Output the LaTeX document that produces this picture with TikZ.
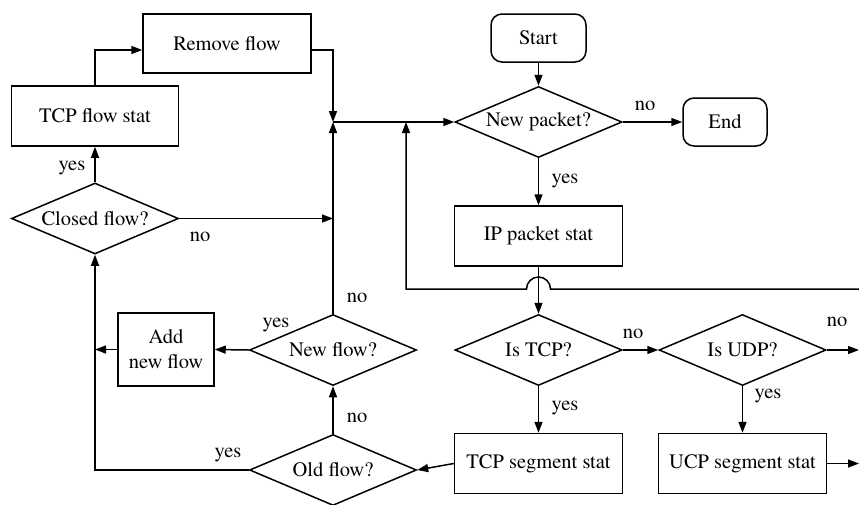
\documentclass[tikz,border=0pt]{standalone}
\usepackage{fontspec}
\setmainfont{texgyretermes-regular.otf}
\usetikzlibrary{arrows.meta,shapes.geometric}
\newcommand\dtext[1]{\makebox[0pt]{#1}}
\begin{document}
\begin{tikzpicture}[x=1pt,y=-1pt,
  font=\fontsize{20.5}{25}\selectfont,
  line width=1.5pt,
  >={Triangle[length=11pt,width=8pt]},
  box/.style={draw,rectangle,inner sep=0pt,minimum width=168pt,minimum height=60pt},
  term/.style={draw,rectangle,rounded corners=11pt,inner sep=0pt,minimum height=48pt},
  dec/.style={draw,diamond,inner sep=0pt,minimum width=167pt,minimum height=71pt},
  lab/.style={anchor=base,inner sep=0pt}]
\useasboundingbox (0,0) rectangle (859,504);
% nodes
\node[term,minimum width=95pt] (start) at (538.5,38) {Start};
\node[dec] (np) at (538.5,122) {\dtext{New packet?}};
\node[term,minimum width=84pt] (end) at (725,122) {End};
\node[box] (ip) at (538.5,236) {IP packet stat};
\node[dec] (istcp) at (538.5,350) {\dtext{Is TCP?}};
\node[dec] (isudp) at (742.5,350) {\dtext{Is UDP?}};
\node[box] (tcpseg) at (538.5,463.5) {TCP segment stat};
\node[box] (ucpseg) at (742.5,463.5) {UCP segment stat};
\node[dec] (old) at (333,470) {\dtext{Old flow?}};
\node[dec] (newf) at (333,350) {\dtext{New flow?}};
\node[box,minimum width=96pt,minimum height=73pt,align=center] (add) at (166,349.5) {Add\\new flow};
\node[dec] (closed) at (95,218.5) {\dtext{Closed flow?}};
\node[box,minimum width=167pt] (tcpflow) at (95,116) {TCP flow stat};
\node[box,minimum height=59pt] (remove) at (227,43.5) {Remove flow};
\coordinate (jn) at (333,122);
\coordinate (outA) at (859,350);
\coordinate (outB) at (859,463.5);
\coordinate (loopR) at (859,289);
\coordinate (loopL) at (406,289);
% connectors
\draw[->] (start) -- (np);
\draw[->] (np.east) -- (end.west);
\draw[->] (np.south) -- (ip.north);
\draw[->] (ip.south) -- (istcp.north);
\draw[->] (istcp.east) -- (isudp.west);
\draw[->] (isudp.east) -- (outA);
\draw[->] (isudp.south) -- (ucpseg.north);
\draw[->] (ucpseg.east) -- (outB);
\draw[->] (istcp.south) -- (tcpseg.north);
\draw[->] (tcpseg.west) -- (old.east);
\draw[->] (old.north) -- (newf.south);
\draw[->] (newf.north) -- (jn);
\draw[->] (newf.west) -- (add.east);
\draw[->] (add.west) -- (add.west -| closed.south);
\draw[->] (old.west) -| (closed.south);
\draw[->] (closed.north) -- (tcpflow.south);
\draw[->] (tcpflow.north) |- ([yshift=-6.5pt]remove.west);
\draw[->] ([yshift=-6.5pt]remove.east) -| (jn);
\draw[->] (jn) -- (np.west);
\draw[->] (closed.east) -- (closed.east -| jn);
\draw[->] (loopR) -- ([xshift=12pt]ip.south |- loopR) arc[start angle=0,end angle=180,radius=12pt] -- (loopL) -- (loopL |- jn);
% labels
\node[lab] (l1) at (645,110) {no};
\node[lab] (l2) at (565,183) {yes};
\node[lab] (l3) at (633,338) {no};
\node[lab] (l4) at (837,326) {no};
\node[lab] (l5) at (768,398) {yes};
\node[lab] (l6) at (565,410) {yes};
\node[lab] (l7) at (357,302) {no};
\node[lab] (l8) at (357,422) {no};
\node[lab] (l9) at (276,327) {yes};
\node[lab] (l10) at (228,457) {yes};
\node[lab] (l11) at (72,170) {yes};
\node[lab] (l12) at (200,241) {no};
\end{tikzpicture}
\end{document}
